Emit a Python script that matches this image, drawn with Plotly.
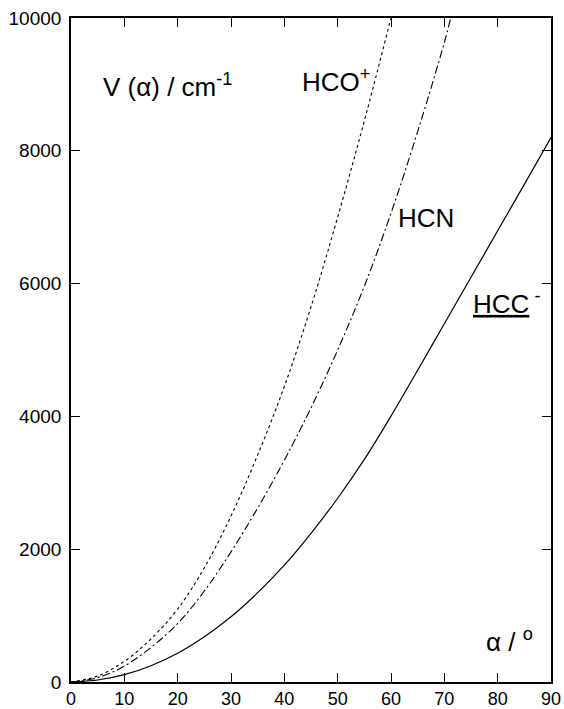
import plotly.graph_objects as go

alpha_hcc = [0, 5, 10, 15, 20, 25, 30, 35, 40, 45, 50, 55, 60, 65, 70, 75, 80, 85, 90]
v_hcc = [0, 30, 110, 245, 432, 680, 982, 1345, 1760, 2240, 2767, 3352, 4005, 4695, 5395, 6095, 6795, 7495, 8200]

alpha_hcn = [0, 5, 10, 15, 20, 25, 30, 35, 40, 45, 50, 55, 60, 65, 70, 71.2]
v_hcn = [0, 65, 240, 520, 880, 1370, 1960, 2620, 3340, 4130, 5000, 5960, 7060, 8290, 9630, 10000]

alpha_hco = [0, 5, 10, 15, 20, 25, 30, 35, 40, 45, 50, 55, 60]
v_hco = [0, 90, 310, 650, 1100, 1720, 2500, 3420, 4450, 5650, 7000, 8450, 10000]

x_ticks = [0, 10, 20, 30, 40, 50, 60, 70, 80, 90]
y_ticks = [0, 2000, 4000, 6000, 8000, 10000]
y_tick_labels = ["0", "2000", "4000", "6000", "8000", "10000"]

FONT = "Liberation Sans, Arial, sans-serif"

fig = go.Figure()
fig.add_trace(go.Scatter(x=alpha_hco, y=v_hco, mode="lines", line=dict(color="black", width=1.1, dash="dot", shape="spline"), name="HCO+"))
fig.add_trace(go.Scatter(x=alpha_hcn, y=v_hcn, mode="lines", line=dict(color="black", width=1.1, dash="8px,3px,2px,3px", shape="spline"), name="HCN"))
fig.add_trace(go.Scatter(x=alpha_hcc, y=v_hcc, mode="lines", line=dict(color="black", width=1.2, shape="spline"), name="HCC-"))

axis_common = dict(showline=True, linecolor="black", linewidth=1.6, mirror="ticks",
                   ticks="inside", ticklen=9, tickwidth=1.4, tickcolor="black",
                   showgrid=False, zeroline=False, automargin=False)

fig.update_xaxes(range=[0, 90], tickvals=x_ticks, ticklabelstandoff=0,
                 tickfont=dict(family=FONT, size=18, color="black"), **axis_common)
fig.update_yaxes(range=[0, 10000], tickvals=y_ticks, ticktext=y_tick_labels,
                 ticklabelstandoff=4,
                 tickfont=dict(family=FONT, size=19, color="black"), **axis_common)

ann_font = dict(family=FONT, size=26, color="black")
fig.add_annotation(x=5.55, y=8990, xref="x", yref="y", text="V (α) / cm<sup>-1</sup>",
                   showarrow=False, xanchor="left", yanchor="middle", font=ann_font)
fig.add_annotation(x=42.85, y=9065, xref="x", yref="y", text="HCO<sup>+</sup>",
                   showarrow=False, xanchor="left", yanchor="middle", font=ann_font)
fig.add_annotation(x=60.9, y=6990, xref="x", yref="y", text="HCN",
                   showarrow=False, xanchor="left", yanchor="middle", font=ann_font)
fig.add_annotation(x=75.0, y=5720, xref="x", yref="y", text="<u>HCC</u><sup> -</sup>",
                   showarrow=False, xanchor="left", yanchor="middle", font=ann_font)
fig.add_annotation(x=77.4, y=630, xref="x", yref="y", text="α / <sup>o</sup>",
                   showarrow=False, xanchor="left", yanchor="middle", font=ann_font)

fig.update_layout(width=564, height=709, margin=dict(l=71, r=13, t=18, b=27),
                  paper_bgcolor="white", plot_bgcolor="white", showlegend=False)

fig.write_html("out.html", config={"displayModeBar": False},
               post_script="document.body.style.margin='0';document.body.style.overflow='hidden';")
